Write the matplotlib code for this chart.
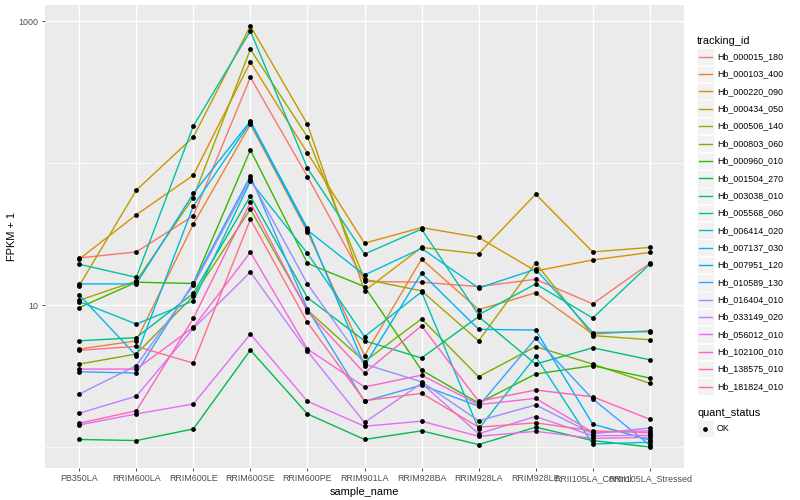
import matplotlib.pyplot as plt
from matplotlib.patches import Rectangle
from matplotlib.ticker import FixedLocator, NullFormatter

plt.rcParams['font.family'] = ['Liberation Sans', 'DejaVu Sans']

samples = ["PB350LA", "RRIM600LA", "RRIM600LE", "RRIM600SE", "RRIM600PE", "RRIM901LA",
           "RRIM928BA", "RRIM928LA", "RRIM928LE", "RRII105LA_Control", "RRII105LA_Stressed"]

tracking_ids = ["Hb_000015_180", "Hb_000103_400", "Hb_000220_090", "Hb_000434_050",
                "Hb_000506_140", "Hb_000803_060", "Hb_000960_010", "Hb_001504_270",
                "Hb_003038_010", "Hb_005568_060", "Hb_006414_020", "Hb_007137_030",
                "Hb_007951_120", "Hb_010589_130", "Hb_016404_010", "Hb_033149_020",
                "Hb_056012_010", "Hb_102100_010", "Hb_138575_010", "Hb_181824_010"]

# FPKM + 1, one list per gene, in sample order
hb_000015_180 = [21.5, 23.7, 42.6, 403, 80.6, 14.7, 14.5, 13.5, 15.2, 10.2, 19.7]
hb_000103_400 = [4.9, 5.6, 37.2, 188, 32.8, 4.4, 21.1, 9.3, 12.2, 6.25, 6.6]
hb_000220_090 = [21.1, 43.3, 82.3, 517, 118, 27.3, 35.2, 30.0, 17.4, 20.8, 23.5]
hb_000434_050 = [13.7, 64.5, 153, 927, 188, 12.6, 25.5, 23.0, 60.5, 23.7, 25.5]
hb_000506_140 = [10.8, 14.8, 57.3, 635, 153, 15.2, 12.6, 5.6, 19.8, 6.1, 5.7]
hb_000803_060 = [3.84, 4.52, 11.6, 47.4, 9.2, 4.0, 8.0, 3.13, 5.1, 3.84, 2.81]
hb_000960_010 = [9.6, 14.5, 14.2, 124, 19.7, 13.5, 3.48, 2.04, 3.27, 3.74, 3.06]
hb_001504_270 = [1.13, 1.11, 1.34, 4.82, 1.71, 1.13, 1.30, 1.04, 1.38, 1.11, 1.0]
hb_003038_010 = [5.6, 5.9, 12.1, 58.6, 11.3, 5.6, 4.24, 8.3, 3.84, 5.0, 4.12]
hb_005568_060 = [19.4, 15.7, 183, 855, 92.2, 22.9, 34.3, 8.55, 14.1, 8.1, 19.4]
hb_006414_020 = [10.6, 7.35, 10.7, 74.7, 23.2, 6.0, 12.4, 1.34, 4.35, 1.05, 1.08]
hb_007137_030 = [11.8, 4.4, 50.0, 194, 33.7, 16.3, 25.1, 13.2, 17.9, 6.4, 6.5]
hb_007951_120 = [14.1, 14.1, 61.2, 198, 34.7, 3.74, 16.8, 6.75, 6.67, 1.45, 1.12]
hb_010589_130 = [3.39, 3.32, 14.3, 81, 9.4, 2.1, 2.73, 1.94, 5.83, 2.18, 1.03]
hb_016404_010 = [2.36, 3.74, 13.8, 77.2, 14.1, 3.84, 2.88, 1.53, 1.98, 1.24, 1.36]
hb_033149_020 = [1.73, 2.28, 6.85, 17.1, 4.74, 1.49, 2.81, 1.24, 1.64, 1.2, 1.21]
hb_056012_010 = [1.43, 1.71, 2.01, 6.25, 2.1, 1.4, 1.52, 1.19, 1.29, 1.15, 1.17]
hb_102100_010 = [3.54, 3.54, 6.97, 23.6, 4.9, 2.65, 3.21, 1.99, 2.2, 1.27, 1.3]
hb_138575_010 = [1.47, 1.8, 8.06, 53.1, 9.0, 3.32, 7.15, 2.1, 2.52, 2.26, 1.57]
hb_181824_010 = [4.8, 5.12, 3.9, 40.3, 7.55, 2.12, 2.39, 1.38, 1.48, 1.3, 1.26]

series = [hb_000015_180, hb_000103_400, hb_000220_090, hb_000434_050, hb_000506_140,
          hb_000803_060, hb_000960_010, hb_001504_270, hb_003038_010, hb_005568_060,
          hb_006414_020, hb_007137_030, hb_007951_120, hb_010589_130, hb_016404_010,
          hb_033149_020, hb_056012_010, hb_102100_010, hb_138575_010, hb_181824_010]

# ggplot default hue palette, 20 levels
colors = ["#F8766D", "#EA8331", "#D89000", "#C09B00", "#A3A500", "#7CAE00", "#39B600",
          "#00BB4E", "#00BF7D", "#00C1A3", "#00BFC4", "#00BAE0", "#00B0F6", "#35A2FF",
          "#9590FF", "#C77CFF", "#E76BF3", "#FA62DB", "#FF62BC", "#FF6C91"]

fig = plt.figure(figsize=(8, 5), dpi=100)
ax = fig.add_axes([45 / 800, 1 - 468 / 500, (684 - 45) / 800, (468 - 5) / 500])
ax.set_facecolor("#EBEBEB")
for s in ax.spines.values():
    s.set_visible(False)

x = list(range(len(samples)))
for vals, c in zip(series, colors):
    ax.plot(x, vals, color=c, lw=1.0, zorder=2)
for vals in series:
    ax.scatter(x, vals, s=12, color="black", zorder=3, linewidths=0)

ax.set_yscale("log")
ax.set_ylim(10 ** -0.148, 10 ** 3.115)
ax.set_xlim(-0.6, len(samples) - 0.4)
ax.yaxis.set_major_locator(FixedLocator([10, 1000]))
ax.set_yticklabels(["10", "1000"])
ax.yaxis.set_minor_locator(FixedLocator([1, 100]))
ax.yaxis.set_minor_formatter(NullFormatter())
ax.set_xticks(x)
ax.set_xticklabels(samples)
ax.grid(which="major", color="white", lw=1.0, zorder=0)
ax.grid(which="minor", axis="y", color="white", lw=0.5, zorder=0)
ax.set_axisbelow(True)
ax.tick_params(which="major", length=2.5, width=0.6, color="#333333",
               labelsize=6.4, labelcolor="#4D4D4D", pad=2)
ax.tick_params(which="minor", length=0)
ax.set_xlabel("sample_name", fontsize=7.9, labelpad=3)
ax.set_ylabel("FPKM + 1", fontsize=7.9, labelpad=1)

# legends, drawn in pixel coordinates
leg = fig.add_axes([0, 0, 1, 1], zorder=5)
leg.set_xlim(0, 800)
leg.set_ylim(500, 0)
leg.axis("off")

leg.text(697, 40.5, "tracking_id", fontsize=7.9, va="center", ha="left")
for i, (name, c) in enumerate(zip(tracking_ids, colors)):
    yc = 56.7 + i * 17.36
    leg.add_patch(Rectangle((697, yc - 8.3), 16.6, 16.6, facecolor="#F2F2F2", edgecolor="white", lw=0.5))
    leg.plot([699, 711.5], [yc, yc], color=c, lw=1.0)
    leg.text(717, yc, name, fontsize=6.4, va="center", ha="left")

leg.text(697, 412.5, "quant_status", fontsize=7.9, va="center", ha="left")
leg.add_patch(Rectangle((697, 428.5 - 8.3), 16.6, 16.6, facecolor="#F2F2F2", edgecolor="white", lw=0.5))
leg.scatter([705.3], [428.5], s=12, color="black", linewidths=0)
leg.text(717, 428.5, "OK", fontsize=6.4, va="center", ha="left")

fig.savefig("out.png", dpi=100)
